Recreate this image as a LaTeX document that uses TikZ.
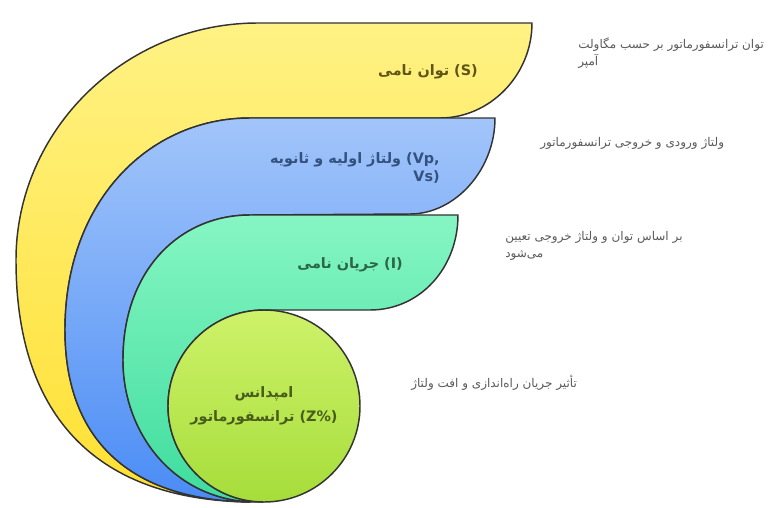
\documentclass[tikz,border=0pt]{standalone}
\usepackage{fontspec}
\usepackage{xcolor}
\setmainfont{DejaVu Sans}
\newfontfamily\arabicfont[Script=Arabic]{DejaVu Sans}
\TeXXeTstate=1

\definecolor{bandline}{HTML}{333333}
\definecolor{yellowtop}{HTML}{FFF284}
\definecolor{yellowbot}{HTML}{FFE032}
\definecolor{bluetop}{HTML}{A2C5FA}
\definecolor{bluebot}{HTML}{4A8CF5}
\definecolor{greentop}{HTML}{86F6C3}
\definecolor{greenbot}{HTML}{3EDC9E}
\definecolor{limetop}{HTML}{CEF26A}
\definecolor{limebot}{HTML}{A6DD3A}
\definecolor{yellowtext}{HTML}{5E5516}
\definecolor{bluetext}{HTML}{34527F}
\definecolor{greentext}{HTML}{2C6647}
\definecolor{limetext}{HTML}{4A5C1C}
\definecolor{notegray}{HTML}{5A5A5A}

\begin{document}
\begin{tikzpicture}[x=0.75pt,y=-0.75pt,
  band/.style={draw=bandline, line width=1.1pt, line join=round},
  label/.style={font=\arabicfont\bfseries\fontsize{10.8}{14}\selectfont, align=right, anchor=east, inner sep=0pt},
  note/.style={font=\arabicfont\fontsize{9}{12.75}\selectfont, text=notegray, align=left, anchor=west, inner sep=0pt}]

  \useasboundingbox (0,0) rectangle (780,507);

  % yellow band, closed along the blue one
  \path[band, top color=yellowtop, bottom color=yellowbot]
    (250,502) .. controls (100,500) and (16,420) .. (16,260)
    .. controls (16,130) and (125,23) .. (258,23) -- (532,23)
    .. controls (532,75) and (490,118) .. (440,118) -- (250,118)
    .. controls (150,118) and (65,200) .. (65,330)
    .. controls (65,440) and (130,500) .. (250,502) -- cycle;

  % blue band
  \path[band, top color=bluetop, bottom color=bluebot]
    (250,502) .. controls (130,500) and (65,440) .. (65,330)
    .. controls (65,200) and (150,118) .. (250,118) -- (495,118)
    .. controls (495,170) and (455,214) .. (410,214) -- (250,215)
    .. controls (180,215) and (123,270) .. (123,360)
    .. controls (123,430) and (170,497) .. (250,502) -- cycle;

  % green band, closed along the circle
  \path[band, top color=greentop, bottom color=greenbot]
    (250,502) .. controls (170,497) and (123,430) .. (123,360)
    .. controls (123,270) and (180,215) .. (250,215) -- (458,215)
    .. controls (458,268) and (420,310) .. (370,310) -- (264,310)
    .. controls (211,310) and (168,353) .. (168,406)
    .. controls (168,459) and (211,502) .. (264,502) -- cycle;

  % impedance circle
  \node[circle, band, top color=limetop, bottom color=limebot, minimum size=144pt, inner sep=0pt,
        align=center, text=limetext, font=\arabicfont\bfseries\fontsize{10.8}{18}\selectfont]
    (impedance) at (264,406) {\beginR امپدانس\endR\\\beginR ترانسفورماتور\endR{} (Z\%)};

  % band labels
  \node[label, text=yellowtext] (power) at (478,72) {\beginR توان نامی\endR{} (S)};
  \node[label, text=bluetext] (voltage) at (440,168) {\beginR ولتاژ اولیه و ثانویه\endR{} (Vp,\\Vs)};
  \node[label, text=greentext] (current) at (403,265) {\beginR جریان نامی\endR{} (I)};

  % notes on the right
  \node[note] (powernote) at (578,53) {\beginR توان ترانسفورماتور بر حسب مگاولت\endR\\\beginR آمپر\endR};
  \node[note] (voltagenote) at (540,143) {\beginR ولتاژ ورودی و خروجی ترانسفورماتور\endR};
  \node[note] (currentnote) at (505,246) {\beginR بر اساس توان و ولتاژ خروجی تعیین\endR\\\beginR می‌شود\endR};
  \node[note] (impedancenote) at (411,383) {\beginR تأثیر جریان راه‌اندازی و افت ولتاژ\endR};
\end{tikzpicture}
\end{document}
